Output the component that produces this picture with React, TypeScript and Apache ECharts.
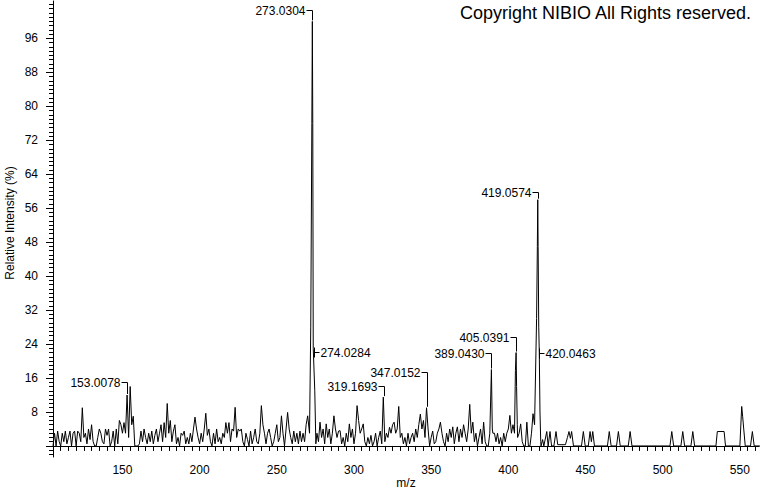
import React, { useEffect, useRef } from "react";
import * as echarts from "echarts";

// ---- spectrum data (m/z, relative intensity %) ----
const lowMassStart = 105; // 105..159, 1 m/z step
const lowMassValues = [
  0, 3, 0, 3.5, 1, 0, 3, 1, 3.5, 0.5,
  2, 3.5, 0, 3, 3.5, 0, 3.5, 3, 1, 9,
  2, 3, 0.5, 4, 1.5, 5, 1, 0, 0, 2,
  4, 3, 1, 0.5, 4, 2.5, 4, 0, 1, 3.5,
  0, 4, 0.5, 6, 5, 3, 5.5, 3, 12, 2,
  14, 5, 7, 0, 0,
];
const midLowStart = 160; // 160..270
const midLowValues = [
  0, 0.5, 3.5, 1, 4, 2, 0.5, 3, 1, 3.5,
  0.5, 2.5, 4, 1, 3, 5, 1, 5.5, 2, 10,
  3, 6, 1, 3.5, 5, 0.5, 2, 0, 3, 2.5,
  3.5, 0.5, 2, 0.5, 3, 1, 4, 6.8, 4, 2,
  0.5, 3, 1, 4, 7.7, 2.5, 4, 1, 0, 3,
  0.5, 4, 1, 2, 0.5, 3, 2, 5.5, 3, 5.5,
  1, 4, 3.5, 9.1, 2, 4, 3.5, 4, 1, 0,
  3, 1.5, 0, 3.5, 0.5, 2, 4, 1, 0.5, 3,
  9.5, 5, 3, 0.5, 3, 4, 2, 0, 1, 3,
  5, 1, 2, 7.1, 3, 0, 4, 7.9, 4, 2,
  0.5, 3.5, 1, 3, 0.5, 3.5, 1, 3, 1, 5,
  7.1,
];
const basePeakProfile = [
  [271.2, 3], [272.0, 28], [272.7, 76], [273.03, 100], [273.3, 76],
  [273.6, 23], [274.03, 23], [274.6, 13], [275.3, 0.5],
];
const midStart = 276; // 276..388
const midValues = [
  3, 1, 5.6, 2, 4, 0.5, 5.2, 2, 4, 0.5,
  3, 7.1, 4, 2, 3.5, 3.6, 0.5, 2, 0, 3,
  1, 5.2, 2, 4, 0.5, 3, 9.5, 6, 3, 4,
  5.2, 1, 0, 2, 0.5, 2.5, 0, 1, 3, 0,
  2, 3.5, 0.5, 11.5, 1, 3, 2, 4.4, 3, 5,
  5.6, 3, 4, 9.3, 2, 3, 0.5, 2, 0, 3,
  0.5, 2, 3, 1, 4, 2, 5, 7.5, 4, 6,
  2, 9, 4, 0, 2, 3.5, 0.5, 1, 3, 4,
  5.6, 3, 1, 0, 3, 1, 4, 2, 4.5, 0.5,
  3, 4.5, 1, 4, 2, 5, 3, 1, 4, 9.8,
  3, 5.6, 1, 3, 0, 2, 4, 0.5, 5.6, 1,
  0, 0, 3,
];
const peak389Profile = [[389.04, 18], [389.6, 4]];
const preFragStart = 390; // 390..403
const preFragValues = [3, 3, 1, 3, 0.5, 2, 0, 3, 1, 3, 4, 7.2, 3, 5];
const peak405Profile = [[404, 3], [404.6, 17.8], [405.04, 22], [405.35, 14], [405.8, 5]];
const prePrecursorStart = 406; // 406..417
const prePrecursorValues = [2, 3, 5.2, 1, 0, 0, 5.6, 0, 0, 3, 7.6, 5];
const peak419Profile = [
  [418.3, 30], [418.8, 47], [419.06, 58], [419.3, 47], [419.7, 28],
  [420.05, 22], [420.5, 8], [421, 1],
];
const highMassProfile = [
  [421.2, 0], [422.2, 1.5], [423, 0], [424.9, 3.4], [425.8, 0], [427, 3.4], [428, 0],
  [429.5, 0], [430.9, 3.4], [432, 0.3], [437, 0.3], [438.3, 2], [439.3, 3.4], [440.2, 1.8],
  [441, 3.4], [442.2, 0], [447.4, 0], [448.6, 3.4], [449.8, 0], [451.8, 0], [452.95, 3.4],
  [453.8, 1], [454.7, 3.4], [455.8, 0], [464.2, 0], [465.4, 3.4], [466.6, 0], [470.1, 0],
  [471.3, 3.4], [472.5, 0], [477.7, 0], [478.9, 3.4], [480.1, 0], [504.7, 0], [505.9, 3.4],
  [507.1, 0], [511.8, 0], [513, 3.4], [514.2, 0], [518.3, 0], [519.5, 3.4], [520.7, 0],
  [534.5, 0], [535.4, 3.4], [539.8, 3.4], [540.7, 0], [550, 0], [551.2, 9.3], [551.8, 7],
  [552.5, 4], [553.5, 0], [556.9, 0], [558.1, 3.4], [559.3, 0], [563, 0],
];

// ---- annotations ----
const annotationMz = [153.0078, 273.0304, 274.0284, 319.1693, 347.0152, 389.043, 405.0391, 419.0574, 420.0463];
const annotationText = ["153.0078", "273.0304", "274.0284", "319.1693", "347.0152", "389.0430", "405.0391", "419.0574", "420.0463"];
const annotationSide = ["left", "left", "right", "left", "left", "left", "left", "left", "right"];
const annotationLabelLevel = [15.1, 102.7, 22.1, 14.1, 17.5, 21.9, 25.7, 59.8, 21.9];

// ---- axes ----
const xLabelValues = [150, 200, 250, 300, 350, 400, 450, 500, 550];
const yLabelValues = [8, 16, 24, 32, 40, 48, 56, 64, 72, 80, 88, 96];
const xMin = 105;
const xMax = 562.4;
const yMin = -2.6;
const yMax = 104.8;

const FONT = '"Liberation Sans", Arial, Helvetica, sans-serif';

function fromStart(start: number, values: number[]): number[][] {
  return values.map((v, i) => [start + i, v]);
}

const spectrum: number[][] = [
  ...fromStart(lowMassStart, lowMassValues),
  ...fromStart(midLowStart, midLowValues),
  ...basePeakProfile,
  ...fromStart(midStart, midValues),
  ...peak389Profile,
  ...fromStart(preFragStart, preFragValues),
  ...peak405Profile,
  ...fromStart(prePrecursorStart, prePrecursorValues),
  ...peak419Profile,
  ...highMassProfile,
].sort((a, b) => a[0] - b[0]);

function nearestIntensity(mz: number): number {
  let best = spectrum[0];
  for (const p of spectrum) {
    if (Math.abs(p[0] - mz) < Math.abs(best[0] - mz)) best = p;
  }
  return best[1];
}

const annotationData = annotationMz.map((mz, i) => [mz, nearestIntensity(mz), annotationLabelLevel[i]]);

const xTickValues: number[] = [];
for (let v = 105; v <= 560; v += 5) xTickValues.push(v);
const yTickValues: number[] = [];
for (let v = -2; v <= 104; v += 1) yTickValues.push(v);
const yLongTickValues = [0, ...yLabelValues];

export default function App() {
  const ref = useRef<HTMLDivElement>(null);
  useEffect(() => {
    document.body.style.margin = "0";
    if (!ref.current) return;
    const chart = echarts.init(ref.current, undefined, { renderer: "svg" });
    const axisCommonY = {
      type: "value" as const,
      min: yMin,
      max: yMax,
      splitLine: { show: false },
    };
    chart.setOption({
      animation: false,
      backgroundColor: "#fff",
      grid: { left: 53, right: 1, top: 1, bottom: 35, containLabel: false, outerBoundsMode: "none" },
      xAxis: {
        type: "value",
        min: xMin,
        max: xMax,
        name: "m/z",
        nameLocation: "middle",
        nameGap: 20,
        nameMoveOverlap: false,
        nameTextStyle: { color: "#000", fontSize: 12, fontFamily: FONT },
        axisLine: { lineStyle: { color: "#000", width: 1 } },
        axisTick: { show: true, length: 5, customValues: xTickValues, lineStyle: { color: "#000" } },
        axisLabel: { customValues: xLabelValues, color: "#000", fontSize: 12, fontFamily: FONT, margin: 7 },
        splitLine: { show: false },
      },
      yAxis: [
        {
          ...axisCommonY,
          name: "Relative Intensity (%)",
          nameLocation: "middle",
          nameGap: 37,
          nameMoveOverlap: false,
          nameTextStyle: { color: "#000", fontSize: 12, fontFamily: FONT, padding: [0, 0, 0, 12] },
          axisLine: { show: true, lineStyle: { color: "#000", width: 1 } },
          axisTick: { show: true, length: 4, customValues: yTickValues, lineStyle: { color: "#000" } },
          axisLabel: { customValues: yLabelValues, color: "#000", fontSize: 12, fontFamily: FONT, margin: 15 },
        },
        {
          ...axisCommonY,
          position: "left",
          axisLine: { show: false },
          axisTick: { show: true, length: 7, customValues: yLongTickValues, lineStyle: { color: "#000" } },
          axisLabel: { show: false },
        },
      ],
      graphic: [
        {
          type: "text",
          right: 8,
          top: 4,
          style: { text: "Copyright NIBIO All Rights reserved.", font: `18px ${FONT}`, fill: "#000" },
        },
      ],
      series: [
        {
          type: "line",
          data: spectrum,
          showSymbol: false,
          symbol: "none",
          lineStyle: { color: "#000", width: 1 },
          silent: true,
          z: 2,
        },
        {
          type: "custom",
          data: annotationData,
          clip: false,
          silent: true,
          z: 3,
          renderItem: (params: any, api: any) => {
            const i = params.dataIndex;
            const peak = api.coord([api.value(0), api.value(1)]);
            const lab = api.coord([api.value(0), api.value(2)]);
            const x = Math.round(peak[0]) + 0.5;
            const ly = Math.round(lab[1]) + 0.5;
            const stroke = { stroke: "#000", lineWidth: 1 };
            const textStyle = { text: annotationText[i], fill: "#000", font: `12px ${FONT}` };
            if (annotationSide[i] === "left") {
              return {
                type: "group",
                children: [
                  { type: "line", shape: { x1: x, y1: ly, x2: x, y2: peak[1] - 1 }, style: stroke },
                  { type: "line", shape: { x1: x - 6, y1: ly, x2: x, y2: ly }, style: stroke },
                  { type: "text", x: x - 7, y: ly, style: { ...textStyle, align: "right", verticalAlign: "middle" } },
                ],
              };
            }
            return {
              type: "group",
              children: [
                { type: "line", shape: { x1: x, y1: ly - 5, x2: x, y2: ly + 5 }, style: stroke },
                { type: "line", shape: { x1: x, y1: ly, x2: x + 5, y2: ly }, style: stroke },
                { type: "text", x: x + 6, y: ly, style: { ...textStyle, align: "left", verticalAlign: "middle" } },
              ],
            };
          },
        },
      ],
    });
    return () => chart.dispose();
  }, []);
  return <div ref={ref} style={{ width: 760, height: 492 }} />;
}
